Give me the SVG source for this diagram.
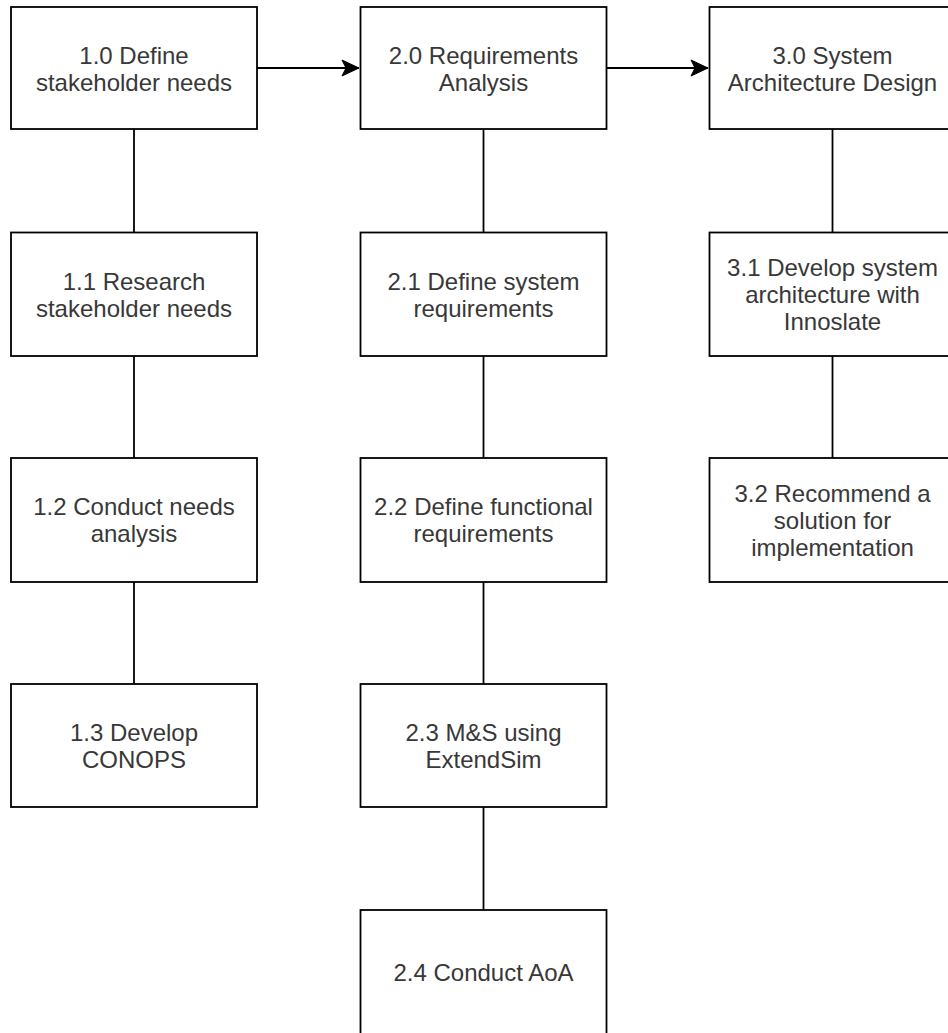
<svg xmlns="http://www.w3.org/2000/svg" width="948" height="1033" viewBox="0 0 948 1033">
  <style>
    .box { fill: #ffffff; stroke: #000000; stroke-width: 1.8; }
    .lbl { font-family: "Liberation Sans", Arial, sans-serif; font-size: 24px; fill: #383838; text-anchor: middle; }
    .link { fill: none; stroke: #000000; stroke-width: 1.8; }
  </style>
  <defs>
    <marker id="arrow" markerUnits="userSpaceOnUse" markerWidth="20" markerHeight="20" viewBox="-18 -10 20 20" refX="0" refY="0" orient="auto">
      <path d="M0,0 L-17,-8 L-13,0 L-17,8 Z" fill="#000000" stroke="#000000" stroke-width="1"/>
    </marker>
  </defs>

  <!-- connectors -->
  <g id="connectors">
    <path class="link" d="M257,68 H359" marker-end="url(#arrow)"/>
    <path class="link" d="M607,68 H708" marker-end="url(#arrow)"/>
    <path class="link" d="M134,129 V232.5"/>
    <path class="link" d="M134,356 V458"/>
    <path class="link" d="M134,582 V684"/>
    <path class="link" d="M483.5,129 V232.5"/>
    <path class="link" d="M483.5,356 V458"/>
    <path class="link" d="M483.5,582 V684"/>
    <path class="link" d="M483.5,807 V910"/>
    <path class="link" d="M832.5,129 V232.5"/>
    <path class="link" d="M832.5,356 V458"/>
  </g>

  <!-- column 1 -->
  <g id="n1_0">
    <rect class="box" x="11" y="7" width="246" height="122"/>
    <text class="lbl" x="134" y="64">1.0 Define</text>
    <text class="lbl" x="134" y="91">stakeholder needs</text>
  </g>
  <g id="n1_1">
    <rect class="box" x="11" y="232.5" width="246" height="123.5"/>
    <text class="lbl" x="134" y="290">1.1 Research</text>
    <text class="lbl" x="134" y="317">stakeholder needs</text>
  </g>
  <g id="n1_2">
    <rect class="box" x="11" y="458" width="246" height="124"/>
    <text class="lbl" x="134" y="515">1.2 Conduct needs</text>
    <text class="lbl" x="134" y="542">analysis</text>
  </g>
  <g id="n1_3">
    <rect class="box" x="11" y="684" width="246" height="123"/>
    <text class="lbl" x="134" y="741">1.3 Develop</text>
    <text class="lbl" x="134" y="768">CONOPS</text>
  </g>

  <!-- column 2 -->
  <g id="n2_0">
    <rect class="box" x="360.5" y="7" width="246" height="122"/>
    <text class="lbl" x="483.5" y="64">2.0 Requirements</text>
    <text class="lbl" x="483.5" y="91">Analysis</text>
  </g>
  <g id="n2_1">
    <rect class="box" x="360.5" y="232.5" width="246" height="123.5"/>
    <text class="lbl" x="483.5" y="290">2.1 Define system</text>
    <text class="lbl" x="483.5" y="317">requirements</text>
  </g>
  <g id="n2_2">
    <rect class="box" x="360.5" y="458" width="246" height="124"/>
    <text class="lbl" x="483.5" y="515">2.2 Define functional</text>
    <text class="lbl" x="483.5" y="542">requirements</text>
  </g>
  <g id="n2_3">
    <rect class="box" x="360.5" y="684" width="246" height="123"/>
    <text class="lbl" x="483.5" y="741">2.3 M&amp;S using</text>
    <text class="lbl" x="483.5" y="768">ExtendSim</text>
  </g>
  <g id="n2_4">
    <rect class="box" x="360.5" y="910" width="246" height="124"/>
    <text class="lbl" x="483.5" y="981">2.4 Conduct AoA</text>
  </g>

  <!-- column 3 -->
  <g id="n3_0">
    <rect class="box" x="709.5" y="7" width="246" height="122"/>
    <text class="lbl" x="832.5" y="64">3.0 System</text>
    <text class="lbl" x="832.5" y="91">Architecture Design</text>
  </g>
  <g id="n3_1">
    <rect class="box" x="709.5" y="232.5" width="246" height="123.5"/>
    <text class="lbl" x="832.5" y="276">3.1 Develop system</text>
    <text class="lbl" x="832.5" y="303">architecture with</text>
    <text class="lbl" x="832.5" y="330">Innoslate</text>
  </g>
  <g id="n3_2">
    <rect class="box" x="709.5" y="458" width="246" height="124"/>
    <text class="lbl" x="832.5" y="501.5">3.2 Recommend a</text>
    <text class="lbl" x="832.5" y="528.5">solution for</text>
    <text class="lbl" x="832.5" y="555.5">implementation</text>
  </g>
</svg>
